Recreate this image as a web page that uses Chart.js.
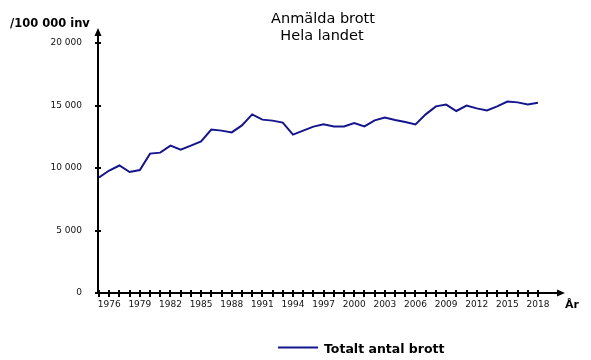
<!DOCTYPE html>
<html>
<head>
<meta charset="utf-8">
<script src="https://cdn.jsdelivr.net/npm/chart.js@4"></script>
<style>
    html, body { margin: 0; padding: 0; background: #fff; }
</style>
</head>
<body>
<canvas id="myChart" width="591" height="360"></canvas>
<script>
// Data
const years = [1975, 1976, 1977, 1978, 1979, 1980, 1981, 1982, 1983, 1984,
    1985, 1986, 1987, 1988, 1989, 1990, 1991, 1992, 1993, 1994,
    1995, 1996, 1997, 1998, 1999, 2000, 2001, 2002, 2003, 2004,
    2005, 2006, 2007, 2008, 2009, 2010, 2011, 2012, 2013, 2014,
    2015, 2016, 2017, 2018];
const totalCrimes = [9250, 9800, 10200, 9680, 9840, 11150, 11230, 11790, 11470, 11790,
    12130, 13070, 12990, 12850, 13410, 14290, 13870, 13790, 13630, 12670,
    12990, 13310, 13490, 13330, 13330, 13600, 13330, 13810, 14030, 13840,
    13680, 13490, 14290, 14930, 15070, 14560, 14990, 14770, 14610, 14930,
    15310, 15250, 15090, 15230];
const yTicks = [0, 5000, 10000, 15000, 20000];
const xLabelYears = [1976, 1979, 1982, 1985, 1988, 1991, 1994, 1997, 2000,
    2003, 2006, 2009, 2012, 2015, 2018];
const titleLines = ['Anmälda brott', 'Hela landet'];
const seriesLabel = 'Totalt antal brott';
const yAxisTitle = '/100 000 inv';
const xAxisTitle = 'År';

const lineColor = '#14148c';
const fontFamily = '"DejaVu Sans", Verdana, sans-serif';

function formatThousands(v) {
    return String(v).replace(/\B(?=(\d{3})+(?!\d))/g, ' ');
}

// Draws the arrowed axes, crossing tick marks, titles and legend
const decorPlugin = {
    id: 'decor',
    afterDatasetsDraw(chart) {
        const ctx = chart.ctx;
        const area = chart.chartArea;
        const xs = chart.scales.x;
        const ys = chart.scales.y;
        const axisX = area.left - 1;
        const axisY = area.bottom;

        ctx.save();
        ctx.strokeStyle = '#000';
        ctx.fillStyle = '#000';
        ctx.lineWidth = 2;

        // y axis + arrow
        ctx.beginPath();
        ctx.moveTo(axisX, axisY);
        ctx.lineTo(axisX, area.top - 8);
        ctx.stroke();
        ctx.beginPath();
        ctx.moveTo(axisX, area.top - 15);
        ctx.lineTo(axisX - 3.5, area.top - 7);
        ctx.lineTo(axisX + 3.5, area.top - 7);
        ctx.closePath();
        ctx.fill();

        // x axis + arrow
        ctx.beginPath();
        ctx.moveTo(axisX, axisY);
        ctx.lineTo(area.right + 20, axisY);
        ctx.stroke();
        ctx.beginPath();
        ctx.moveTo(area.right + 27, axisY);
        ctx.lineTo(area.right + 19, axisY - 3.5);
        ctx.lineTo(area.right + 19, axisY + 3.5);
        ctx.closePath();
        ctx.fill();

        // tick marks
        ctx.beginPath();
        yTicks.forEach(v => {
            const py = Math.round(ys.getPixelForValue(v));
            ctx.moveTo(axisX - 3, py);
            ctx.lineTo(axisX + 3, py);
        });
        years.forEach(v => {
            const px = Math.round(xs.getPixelForValue(v));
            ctx.moveTo(px, axisY - 3);
            ctx.lineTo(px, axisY + 4);
        });
        ctx.stroke();

        // titles
        ctx.textBaseline = 'alphabetic';
        ctx.textAlign = 'center';
        ctx.fillStyle = '#000';
        ctx.font = '14.5px ' + fontFamily;
        ctx.fillText(titleLines[0], 323, 23);
        ctx.fillText(titleLines[1], 322, 40);

        ctx.textAlign = 'left';
        ctx.font = 'bold 11.5px ' + fontFamily;
        ctx.fillText(yAxisTitle, 10, 27);
        ctx.font = 'bold 11px ' + fontFamily;
        ctx.fillText(xAxisTitle, area.right + 27, 308);

        // legend
        const ds = chart.data.datasets[0];
        ctx.strokeStyle = ds.borderColor;
        ctx.lineWidth = 2;
        ctx.beginPath();
        ctx.moveTo(278, 347.5);
        ctx.lineTo(318, 347.5);
        ctx.stroke();
        ctx.fillStyle = '#000';
        ctx.font = 'bold 12.5px ' + fontFamily;
        ctx.fillText(ds.label, 324, 353);
        ctx.restore();
    }
};

const ctx = document.getElementById('myChart').getContext('2d');
const myChart = new Chart(ctx, {
    type: 'line',
    data: {
        datasets: [{
            label: seriesLabel,
            data: years.map((y, i) => ({ x: y, y: totalCrimes[i] })),
            borderColor: lineColor,
            borderWidth: 2,
            pointRadius: 0,
            tension: 0,
            fill: false
        }]
    },
    options: {
        responsive: false,
        animation: false,
        devicePixelRatio: 1,
        layout: { padding: { top: 43, right: 53, bottom: 0, left: 0 } },
        plugins: {
            legend: { display: false },
            title: { display: false },
            tooltip: { enabled: false }
        },
        scales: {
            x: {
                type: 'linear',
                min: years[0],
                max: years[years.length - 1],
                grid: { display: false, drawTicks: false },
                border: { display: false },
                afterBuildTicks: scale => { scale.ticks = years.map(v => ({ value: v })); },
                afterFit: scale => { scale.height = 67; },
                ticks: {
                    autoSkip: false,
                    maxRotation: 0,
                    minRotation: 0,
                    padding: 6,
                    color: '#111',
                    font: { family: fontFamily, size: 9 },
                    callback: v => xLabelYears.includes(v) ? String(v) : ''
                }
            },
            y: {
                min: yTicks[0],
                max: yTicks[yTicks.length - 1],
                grid: { display: false, drawTicks: false },
                border: { display: false },
                afterBuildTicks: scale => { scale.ticks = yTicks.map(v => ({ value: v })); },
                afterFit: scale => { scale.width = 99; },
                ticks: {
                    padding: 17,
                    color: '#111',
                    font: { family: fontFamily, size: 9 },
                    callback: v => formatThousands(v)
                }
            }
        }
    },
    plugins: [decorPlugin]
});
</script>
</body>
</html>
